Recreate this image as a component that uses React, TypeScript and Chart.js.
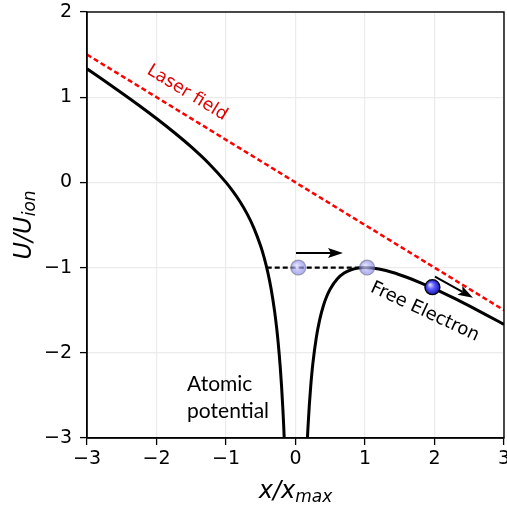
import React, { useEffect, useRef } from 'react';
import { Chart, registerables } from 'chart.js';

Chart.register(...registerables);

// Axis ranges / ticks
const xRange = [-3, 3];
const yRange = [-3, 2];

// Potential curve, left branch (x < 0)
const leftX = [-3.0, -2.75, -2.5, -2.25, -2.0, -1.75, -1.5, -1.25, -1.0, -0.9, -0.8, -0.7, -0.6, -0.5, -0.45, -0.4, -0.35, -0.3, -0.27, -0.25, -0.22, -0.2, -0.18, -0.17, -0.16, -0.15];
const leftU = [1.333, 1.193, 1.05, 0.903, 0.75, 0.589, 0.417, 0.225, 0.0, -0.106, -0.225, -0.364, -0.533, -0.75, -0.886, -1.05, -1.254, -1.517, -1.717, -1.875, -2.163, -2.4, -2.688, -2.856, -3.045, -3.258];

// Potential curve, right branch (x > 0)
const rightX = [0.15, 0.16, 0.17, 0.18, 0.2, 0.22, 0.25, 0.3, 0.35, 0.4, 0.45, 0.5, 0.6, 0.7, 0.8, 0.9, 1.0, 1.1, 1.2, 1.4, 1.6, 1.8, 2.0, 2.25, 2.5, 2.75, 3.0];
const rightU = [-3.408, -3.205, -3.026, -2.868, -2.6, -2.383, -2.125, -1.817, -1.604, -1.45, -1.336, -1.25, -1.133, -1.064, -1.025, -1.006, -1.0, -1.005, -1.017, -1.057, -1.113, -1.178, -1.25, -1.347, -1.45, -1.557, -1.667];

// Laser field line
const laserX = [-3, 3];
const laserU = [1.5, -1.5];

// Tunnel (dashed) level
const levelX = [-0.414, 1.0];
const levelU = [-1, -1];

// Electron markers
const ghostX = [0.04, 1.03];
const ghostU = [-1, -1];
const electronX = [1.97];
const electronU = [-1.23];

// Arrows [x0, y0, x1, y1]
const arrow1 = [0.007, -0.83, 0.683, -0.83];
const arrow2 = [2.007, -1.107, 2.554, -1.353];

// Text annotations
const laserLabel = { text: 'Laser field', x: -1.56, y: 1.05 };
const freeLabel = { text: 'Free Electron', x: 1.86, y: -1.52 };
const atomicLines = ['Atomic', 'potential'];
const atomicPos = { x: -1.56, y: -2.37, y2: -2.69 };

const minusFmt = (v: number) => String(v).replace('-', '\u2212');

const pts = (xs: number[], ys: number[]) => xs.map((x, i) => ({ x, y: ys[i] }));

const overlay = {
  id: 'overlay',
  afterDatasetsDraw(chart: any) {
    const { ctx, chartArea: a, scales } = chart;
    const xs = scales.x, ys = scales.y;
    const px = (v: number) => xs.getPixelForValue(v);
    const py = (v: number) => ys.getPixelForValue(v);
    ctx.save();

    // ghost electrons
    for (let i = 0; i < ghostX.length; i++) {
      const cx = px(ghostX[i]), cy = py(ghostU[i]);
      const g = ctx.createRadialGradient(cx - 2, cy - 2, 1, cx, cy, 7.5);
      g.addColorStop(0, 'rgba(215,215,255,0.75)');
      g.addColorStop(1, 'rgba(120,120,230,0.6)');
      ctx.beginPath();
      ctx.arc(cx, cy, 7.5, 0, Math.PI * 2);
      ctx.fillStyle = g;
      ctx.fill();
      ctx.lineWidth = 1.3;
      ctx.strokeStyle = 'rgba(110,110,130,0.55)';
      ctx.stroke();
    }
    // free electron
    for (let i = 0; i < electronX.length; i++) {
      const cx = px(electronX[i]), cy = py(electronU[i]);
      const g = ctx.createRadialGradient(cx - 2.5, cy - 2.5, 0.5, cx, cy, 7.5);
      g.addColorStop(0, '#d8d8ff');
      g.addColorStop(0.45, '#5a5aff');
      g.addColorStop(1, '#1a1ab0');
      ctx.beginPath();
      ctx.arc(cx, cy, 7.5, 0, Math.PI * 2);
      ctx.fillStyle = g;
      ctx.fill();
      ctx.lineWidth = 1.3;
      ctx.strokeStyle = '#000';
      ctx.stroke();
    }

    // arrows
    const drawArrow = (ar: number[]) => {
      const x0 = px(ar[0]), y0 = py(ar[1]), x1 = px(ar[2]), y1 = py(ar[3]);
      const ang = Math.atan2(y1 - y0, x1 - x0);
      const hl = 15, hw = 5;
      const bx = x1 - hl * Math.cos(ang), by = y1 - hl * Math.sin(ang);
      ctx.strokeStyle = '#000';
      ctx.lineWidth = 2;
      ctx.beginPath();
      ctx.moveTo(x0, y0);
      ctx.lineTo(bx + 3 * Math.cos(ang), by + 3 * Math.sin(ang));
      ctx.stroke();
      ctx.beginPath();
      ctx.moveTo(x1, y1);
      ctx.lineTo(bx + hw * Math.sin(ang), by - hw * Math.cos(ang));
      ctx.lineTo(bx + 3 * Math.cos(ang), by + 3 * Math.sin(ang));
      ctx.lineTo(bx - hw * Math.sin(ang), by + hw * Math.cos(ang));
      ctx.closePath();
      ctx.fillStyle = '#000';
      ctx.fill();
    };
    drawArrow(arrow1);
    drawArrow(arrow2);

    // rotated labels
    ctx.textAlign = 'center';
    ctx.textBaseline = 'middle';
    ctx.save();
    ctx.translate(px(laserLabel.x), py(laserLabel.y));
    ctx.rotate((31.5 * Math.PI) / 180);
    ctx.fillStyle = '#e00000';
    ctx.font = '17.5px "DejaVu Sans"';
    ctx.fillText(laserLabel.text, 0, 0);
    ctx.restore();

    ctx.save();
    ctx.translate(px(freeLabel.x), py(freeLabel.y));
    ctx.rotate((25 * Math.PI) / 180);
    ctx.fillStyle = '#000';
    ctx.font = '18px "DejaVu Sans"';
    ctx.fillText(freeLabel.text, 0, 0);
    ctx.restore();

    ctx.textAlign = 'left';
    ctx.fillStyle = '#000';
    ctx.font = '21px Lato';
    ctx.fillText(atomicLines[0], px(atomicPos.x), py(atomicPos.y));
    ctx.fillText(atomicLines[1], px(atomicPos.x), py(atomicPos.y2));

    // frame
    ctx.strokeStyle = '#000';
    ctx.lineWidth = 1.4;
    ctx.strokeRect(a.left, a.top, a.right - a.left, a.bottom - a.top);

    ctx.restore();
  },
  afterDraw(chart: any) {
    const { ctx, chartArea: a } = chart;
    ctx.save();
    ctx.fillStyle = '#000';
    ctx.textBaseline = 'alphabetic';
    // x title: x/x_max
    const main = 'italic 24px "DejaVu Sans"';
    const sub = 'italic 17px "DejaVu Sans"';
    ctx.font = main;
    const w1 = ctx.measureText('x/x').width;
    ctx.font = sub;
    const w2 = ctx.measureText('max').width;
    const cx = (a.left + a.right) / 2;
    const sx = cx - (w1 + w2) / 2;
    const by = 498;
    ctx.font = main;
    ctx.textAlign = 'left';
    ctx.fillText('x/x', sx, by);
    ctx.font = sub;
    ctx.fillText('max', sx + w1, by + 4);

    // y title: U/U_ion
    ctx.translate(31, (a.top + a.bottom) / 2);
    ctx.rotate(-Math.PI / 2);
    ctx.font = main;
    const v1 = ctx.measureText('U/U').width;
    ctx.font = sub;
    const v2 = ctx.measureText('ion').width;
    const s0 = -(v1 + v2) / 2;
    ctx.font = main;
    ctx.fillText('U/U', s0, 0);
    ctx.font = sub;
    ctx.fillText('ion', s0 + v1, 4);
    ctx.restore();
  },
};

export default function App() {
  const ref = useRef<HTMLCanvasElement>(null);
  useEffect(() => {
    if (!ref.current) return;
    const black = '#000';
    const chart = new Chart(ref.current, {
      type: 'scatter',
      data: {
        datasets: [
          {
            data: pts(laserX, laserU),
            showLine: true,
            borderColor: '#ff0000',
            borderWidth: 2.5,
            borderDash: [5, 3],
            pointRadius: 0,
          },
          {
            data: pts(leftX, leftU),
            showLine: true,
            borderColor: black,
            borderWidth: 3,
            pointRadius: 0,
            cubicInterpolationMode: 'monotone',
          },
          {
            data: pts(rightX, rightU),
            showLine: true,
            borderColor: black,
            borderWidth: 3,
            pointRadius: 0,
            cubicInterpolationMode: 'monotone',
          },
          {
            data: pts(levelX, levelU),
            showLine: true,
            borderColor: black,
            borderWidth: 2.3,
            borderDash: [5, 3],
            pointRadius: 0,
          },
        ],
      },
      options: {
        responsive: false,
        animation: false,
        layout: { padding: { top: 12, right: 3, left: 0, bottom: 0 } },
        plugins: { legend: { display: false }, tooltip: { enabled: false } },
        scales: {
          x: {
            type: 'linear',
            min: xRange[0],
            max: xRange[1],
            afterFit: (s: any) => {
              s.height = 69;
              s.paddingLeft = 0;
              s.paddingRight = 0;
            },
            ticks: {
              stepSize: 1,
              color: black,
              padding: 3,
              maxRotation: 0,
              autoSkip: false,
              font: { family: 'DejaVu Sans', size: 19 },
              callback: (v: any) => minusFmt(v),
            },
            grid: { color: '#ebebeb', lineWidth: 1.2, tickColor: black, tickLength: 7, tickWidth: 1.3 },
            border: { color: black, width: 1.4 },
          },
          y: {
            type: 'linear',
            min: yRange[0],
            max: yRange[1],
            afterFit: (s: any) => {
              s.width = 87;
              s.paddingTop = 0;
              s.paddingBottom = 0;
            },
            ticks: {
              stepSize: 1,
              color: black,
              padding: 8,
              autoSkip: false,
              font: { family: 'DejaVu Sans', size: 19 },
              callback: (v: any) => minusFmt(v),
            },
            grid: { color: '#ebebeb', lineWidth: 1.2, tickColor: black, tickLength: 7, tickWidth: 1.3 },
            border: { color: black, width: 1.4 },
          },
        },
      },
      plugins: [overlay],
    });
    return () => chart.destroy();
  }, []);
  return (
    <div style={{ position: 'absolute', left: 0, top: 0, width: 507, height: 507 }}>
      <canvas ref={ref} width={507} height={507} style={{ display: 'block', width: 507, height: 507 }} />
    </div>
  );
}
